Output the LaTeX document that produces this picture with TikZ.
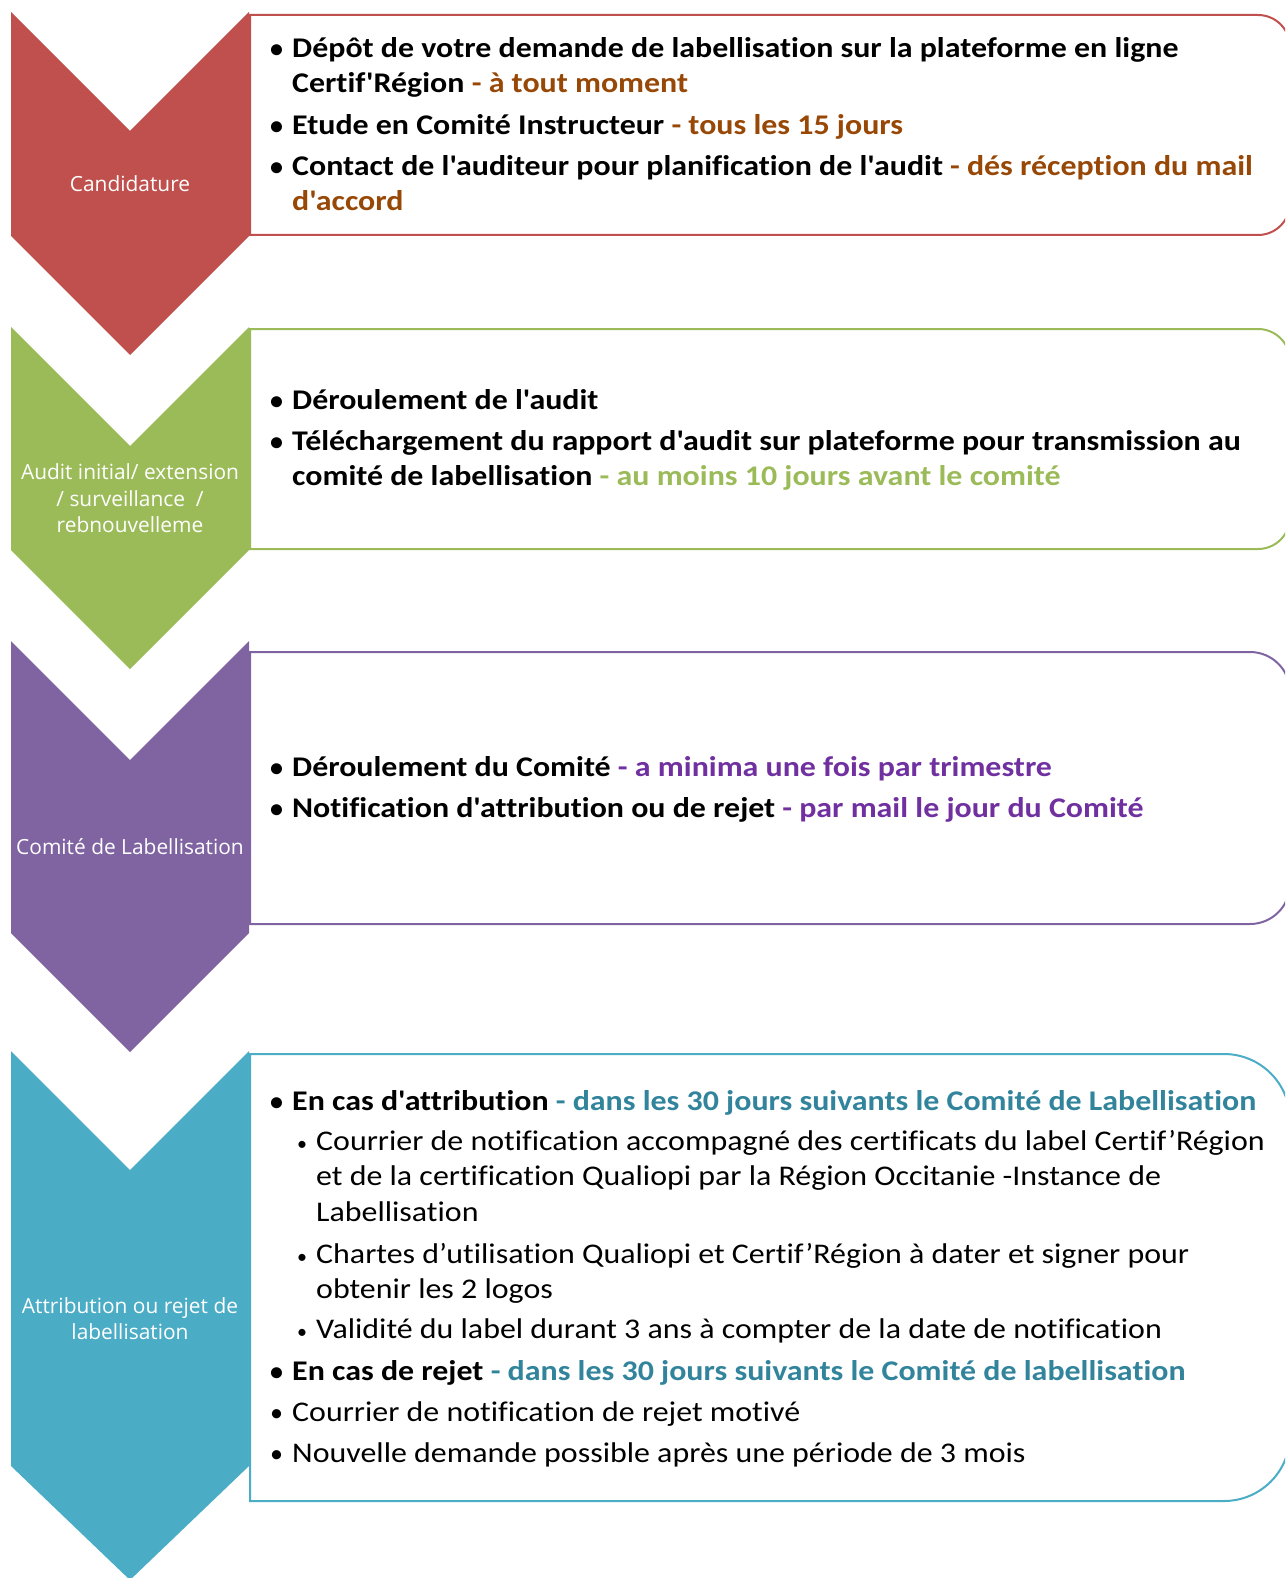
\documentclass[tikz,border=0pt]{standalone}
\usepackage{fontspec}
\newfontfamily\bodyfont{Carlito}[FakeStretch=1.12,Ligatures=CommonOff]
\newfontfamily\bulfont{Carlito}
\newfontfamily\labfont{Open Sans}
\definecolor{cRed}{HTML}{C0504D}
\definecolor{cGreen}{HTML}{9BBB59}
\definecolor{cPurple}{HTML}{8064A2}
\definecolor{cBlue}{HTML}{4BACC6}
\definecolor{tOrange}{HTML}{984806}
\definecolor{tGreen}{HTML}{9BBB59}
\definecolor{tPurple}{HTML}{7030A0}
\definecolor{tTeal}{HTML}{31849B}
\newcommand{\bul}{\llap{\makebox[22pt][l]{\bulfont\fontsize{26}{26}\selectfont•}}}
\newcommand{\subbul}{\llap{\makebox[19pt][l]{\bulfont\fontsize{20}{20}\selectfont•}}}
\begin{document}
\begin{tikzpicture}[x=1pt,y=-1pt,
  boxline/.style={line width=2pt},
  line/.style={anchor=base west,inner sep=0pt,font=\bodyfont\fontsize{28.5}{34}\selectfont\bfseries},
  rline/.style={anchor=base west,inner sep=0pt,font=\bodyfont\fontsize{28.5}{34}\selectfont},
  lab/.style={align=center,inner sep=0pt,text=white,font=\labfont\fontsize{20.9}{26.5}\selectfont}]
\useasboundingbox (0,0) rectangle (1285,1578);
\clip (0,0) rectangle (1285,1578);
% boxes
\draw[boxline,cRed] (250,235) -- (250,15) -- (1258,15) arc[start angle=90,end angle=0,radius=32pt] -- (1290,203) arc[start angle=0,end angle=-90,radius=32pt] -- cycle;
\draw[boxline,cGreen] (250,549) -- (250,329) -- (1258,329) arc[start angle=90,end angle=0,radius=32pt] -- (1290,517) arc[start angle=0,end angle=-90,radius=32pt] -- cycle;
\draw[boxline,cPurple] (250,924) -- (250,652) -- (1250,652) arc[start angle=90,end angle=0,radius=40pt] -- (1290,884) arc[start angle=0,end angle=-90,radius=40pt] -- cycle;
\draw[boxline,cBlue] (250,1501) -- (250,1054) -- (1224,1054) arc[start angle=90,end angle=0,radius=66pt] -- (1290,1435) arc[start angle=0,end angle=-90,radius=66pt] -- cycle;
% chevrons
\fill[cRed] (11,12) -- (130,131) -- (249,12) -- (249,236) -- (130,355) -- (11,236) -- cycle;
\fill[cGreen] (11,327) -- (130,446) -- (249,327) -- (249,550) -- (130,669) -- (11,550) -- cycle;
\fill[cPurple] (11,641) -- (130,760) -- (249,641) -- (249,933) -- (130,1052) -- (11,933) -- cycle;
\fill[cBlue] (11,1051) -- (130,1170) -- (249,1051) -- (249,1466) -- (130,1580) -- (11,1466) -- cycle;
% chevron labels
\node[lab] (l1) at (130,184) {Candidature};
\node[lab] (l2) at (130,498.5) {Audit initial/ extension\\/ surveillance \ /\\rebnouvelleme};
\node[lab] (l3) at (130,847) {Comité de Labellisation};
\node[lab] (l4) at (130,1318.5) {Attribution ou rejet de\\labellisation};
% box 1
\node[line] (a1) at (292,58) {\bul Dépôt de votre demande de labellisation sur la plateforme en ligne};
\node[line] (a2) at (292,93) {Certif'Région \textcolor{tOrange}{- à tout moment}};
\node[line] (a3) at (292,135) {\bul Etude en Comité Instructeur \textcolor{tOrange}{- tous les 15 jours}};
\node[line] (a4) at (292,176) {\bul Contact de l'auditeur pour planification de l'audit \textcolor{tOrange}{- dés réception du mail}};
\node[line] (a5) at (292,211) {\textcolor{tOrange}{d'accord}};
% box 2
\node[line] (b1) at (292,409) {\bul Déroulement de l'audit};
\node[line] (b2) at (292,450) {\bul Téléchargement du rapport d'audit sur plateforme pour transmission au};
\node[line] (b3) at (292,485) {comité de labellisation \textcolor{tGreen}{- au moins 10 jours avant le comité}};
% box 3
\node[line] (c1) at (292,776) {\bul Déroulement du Comité \textcolor{tPurple}{- a minima une fois par trimestre}};
\node[line] (c2) at (292,817) {\bul Notification d'attribution ou de rejet \textcolor{tPurple}{- par mail le jour du Comité}};
% box 4
\node[line] (d1) at (292,1110) {\bul En cas d'attribution \textcolor{tTeal}{- dans les 30 jours suivants le Comité de Labellisation}};
\node[rline] (d2) at (316,1150) {\subbul Courrier de notification accompagné des certificats du label Certif’Région};
\node[rline] (d3) at (316,1185) {et de la certification Qualiopi par la Région Occitanie -Instance de};
\node[rline] (d4) at (316,1221) {Labellisation};
\node[rline] (d5) at (316,1263) {\subbul Chartes d’utilisation Qualiopi et Certif’Région à dater et signer pour};
\node[rline] (d6) at (316,1298) {obtenir les 2 logos};
\node[rline] (d7) at (316,1338) {\subbul Validité du label durant 3 ans à compter de la date de notification};
\node[line] (d8) at (292,1380) {\bul En cas de rejet \textcolor{tTeal}{- dans les 30 jours suivants le Comité de labellisation}};
\node[rline] (d9) at (292,1421) {\bul Courrier de notification de rejet motivé};
\node[rline] (d10) at (292,1462) {\bul Nouvelle demande possible après une période de 3 mois};
\end{tikzpicture}
\end{document}
